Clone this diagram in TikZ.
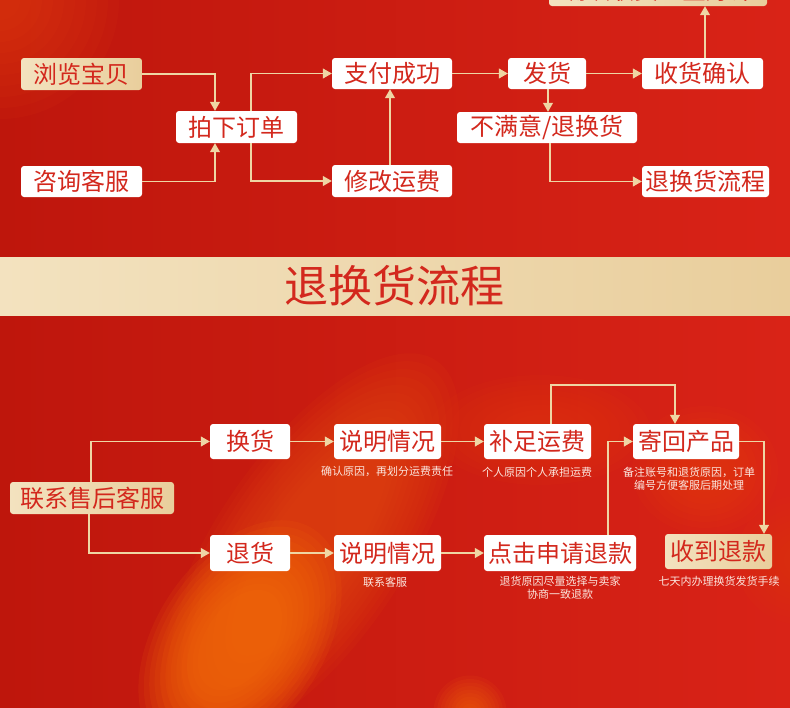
\documentclass[tikz,border=0pt]{standalone}
\usepackage{fontspec}
\newfontfamily\cjk{Noto Sans CJK SC}
\usetikzlibrary{arrows.meta}
\definecolor{bgL}{HTML}{BE160C}
\definecolor{bgR}{HTML}{D92317}
\definecolor{blobor}{HTML}{F87208}
\definecolor{blobmid}{HTML}{E8500E}
\definecolor{glowor}{HTML}{E8440F}
\definecolor{gold1}{HTML}{F3E2BF}
\definecolor{gold2}{HTML}{E9CE9C}
\definecolor{linegold}{HTML}{EFD6A4}
\definecolor{boxtxt}{HTML}{D3281D}
\definecolor{notetxt}{HTML}{FBE6DE}
\tikzset{
  basebox/.style={draw=none, rounded corners=3pt, inner sep=0pt, text=boxtxt,
    font=\cjk\fontsize{24}{24}\selectfont},
  box/.style={basebox, fill=white},
  goldbox/.style={basebox, left color=gold1, right color=gold2},
  conn/.style={draw=linegold, line width=1.1pt, -{Triangle[length=9pt,width=10pt,fill=linegold]}},
  note/.style={text=notetxt, font=\cjk\fontsize{11}{13}\selectfont, align=center, inner sep=0pt},
}
\newcommand\placebox[7]{%
  \pgfmathsetmacro\pbW{#4-#2}\pgfmathsetmacro\pbH{#5-#3}%
  \pgfmathsetmacro\pbX{(#2+#4)/2}\pgfmathsetmacro\pbY{(#3+#5)/2}%
  \node[#1, minimum width=\pbW pt, minimum height=\pbH pt] (#6) at (\pbX,\pbY) {#7};}
\begin{document}
\begin{tikzpicture}[x=1pt,y=-1pt]
\useasboundingbox (0,0) rectangle (790,707);
\clip (0,0) rectangle (790,707);
% background
\shade[left color=bgL, right color=bgR] (0,0) rectangle (790,707);
\foreach \k in {1,...,10} {
  \fill[glowor, opacity=0.08] (0,0) circle ({130-11*\k});
}
% broad diagonal blob
\foreach \k in {1,...,12} {
  \fill[blobmid, opacity=0.08, rotate around={56:(310,548)}] (310,548) ellipse ({235-9*\k} and {100-5*\k});
}
% bright lower end
\foreach \k in {1,...,12} {
  \fill[blobor, opacity=0.10, rotate around={56:(240,640)}] (240,640) ellipse ({140-7*\k} and {88-4.5*\k});
}
\foreach \k in {1,...,10} {
  \fill[glowor, opacity=0.06] (540,430) ellipse ({120-10*\k} and {60-5*\k});
  \fill[glowor, opacity=0.08] (705,470) ellipse ({80-7*\k} and {70-6*\k});
  \fill[glowor, opacity=0.06] (800,560) circle ({70-6*\k});
  \fill[blobor, opacity=0.08] (470,712) circle ({40-3.5*\k});
}
% banner
\shade[left color=gold1, right color=gold2] (0,257) rectangle (790,315);
\node[text=boxtxt, font=\cjk\fontsize{44}{44}\selectfont, inner sep=0pt] (title) at (394,286) {退换货流程};

% ---------- top flow ----------
\placebox{goldbox}{549}{-26}{767}{6}{toprt}{确认收货五星好评}
\placebox{goldbox}{21}{58}{142}{90}{liulan}{浏览宝贝}
\placebox{box}{21}{166}{142}{197}{zixun}{咨询客服}
\placebox{box}{176}{111}{297}{143}{paixia}{拍下订单}
\placebox{box}{332}{58}{452}{89}{zhifu}{支付成功}
\placebox{box}{332}{165}{452}{197}{xiugai}{修改运费}
\placebox{box}{508}{58}{586}{89}{fahuo}{发货}
\placebox{box}{642}{58}{763}{89}{shouhuo}{收货确认}
\placebox{box}{457}{112}{637}{143}{bumanyi}{不满意/退换货}
\placebox{box}{642}{166}{769}{197}{liucheng}{退换货流程}

\draw[conn] (liulan.east) -| (215,0 |- paixia.north);
\draw[conn] (zixun.east) -| (215,0 |- paixia.south);
\draw[conn] (251,0 |- paixia.north) |- (zhifu.west);
\draw[conn] (251,0 |- paixia.south) |- (xiugai.west);
\draw[conn] (390,0 |- xiugai.north) -- (390,0 |- zhifu.south);
\draw[conn] (zhifu.east) -- (fahuo.west);
\draw[conn] (fahuo.east) -- (shouhuo.west);
\draw[conn] (548,0 |- fahuo.south) -- (548,0 |- bumanyi.north);
\draw[conn] (550,0 |- bumanyi.south) |- (liucheng.west);
\draw[conn] (705,0 |- shouhuo.north) -- (705,0 |- toprt.south);

% ---------- bottom flow ----------
\placebox{goldbox}{10}{482}{174}{514}{lianxi}{联系售后客服}
\placebox{box}{210}{424}{290}{459}{huanhuo}{换货}
\placebox{box}{210}{535}{290}{571}{tuihuo}{退货}
\placebox{box}{334}{424}{441}{459}{shuomingA}{说明情况}
\placebox{box}{334}{535}{441}{571}{shuomingB}{说明情况}
\placebox{box}{484}{424}{591}{459}{buzu}{补足运费}
\placebox{box}{633}{424}{739}{459}{jihui}{寄回产品}
\placebox{box}{484}{535}{636}{571}{dianji}{点击申请退款}
\placebox{goldbox}{665}{534}{772}{569}{shoudao}{收到退款}

\node[note] (noteA) at (387,471) {确认原因，再划分运费责任};
\node[note] (noteB) at (385,582) {联系客服};
\node[note] (noteC) at (537,472) {个人原因个人承担运费};
\node[note] (noteD) at (689,478.5) {备注账号和退货原因，订单\\编号方便客服后期处理};
\node[note] (noteE) at (560,587.5) {退货原因尽量选择与卖家\\协商一致退款};
\node[note] (noteF) at (719,581) {七天内办理换货发货手续};

\draw[conn] (91,0 |- lianxi.north) |- (huanhuo.west);
\draw[conn] (89,0 |- lianxi.south) |- (tuihuo.west);
\draw[conn] (huanhuo.east) -- (shuomingA.west);
\draw[conn] (tuihuo.east) -- (shuomingB.west);
\draw[conn] (shuomingA.east) -- (buzu.west);
\draw[conn] (shuomingB.east) -- (dianji.west);
\draw[conn] (551,0 |- buzu.north) -- (551,385) -| (675,0 |- jihui.north);
\draw[conn] (608,0 |- dianji.north) |- (jihui.west);
\draw[conn] (jihui.east) -| (764,0 |- shoudao.north);
\end{tikzpicture}
\end{document}
